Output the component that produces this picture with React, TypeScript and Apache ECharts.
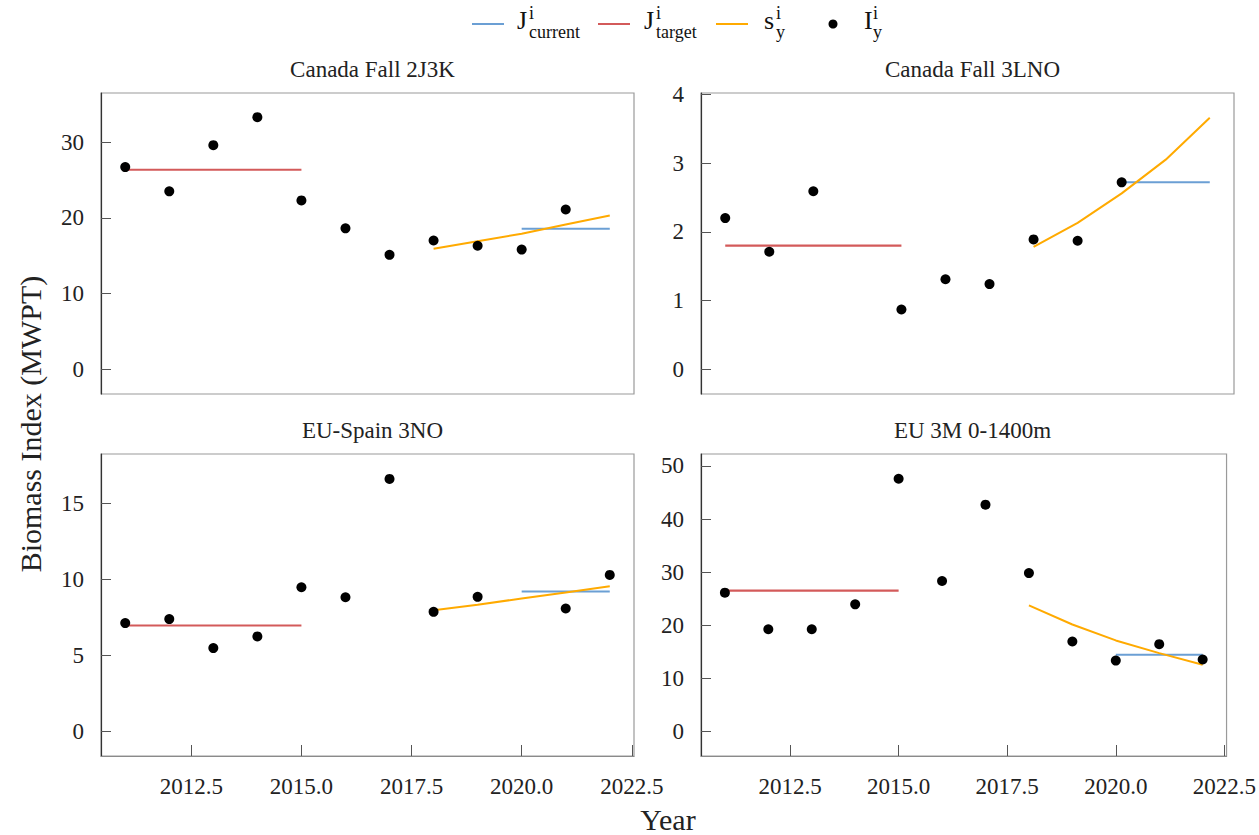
import React, { useEffect, useRef } from "react";
import * as echarts from "echarts";

const years = [2011, 2012, 2013, 2014, 2015, 2016, 2017, 2018, 2019, 2020, 2021, 2022];
const sYears = [2018, 2019, 2020, 2021, 2022];
const targetYears = [2011, 2015];
const currentYears = [2020, 2022];
const xTicks = [2012.5, 2015, 2017.5, 2020, 2022.5];

const titles = ["Canada Fall 2J3K", "Canada Fall 3LNO", "EU-Spain 3NO", "EU 3M 0-1400m"];

// Panel 1: Canada Fall 2J3K
const p1Index = [26.7, 23.5, 29.6, 33.3, 22.3, 18.6, 15.1, 17.0, 16.3, 15.8, 21.1, null];
const p1Target = 26.35;
const p1Current = 18.55;
const p1S = [15.9, 16.9, 17.9, 19.1, 20.3];
const p1Ticks = [0, 10, 20, 30];
const p1Range = [-3.3, 36.5];

// Panel 2: Canada Fall 3LNO
const p2Index = [2.2, 1.71, 2.59, null, 0.87, 1.31, 1.24, 1.89, 1.87, 2.72, null, null];
const p2Target = 1.8;
const p2Current = 2.72;
const p2S = [1.78, 2.13, 2.56, 3.05, 3.66];
const p2Ticks = [0, 1, 2, 3, 4];
const p2Range = [-0.36, 4.02];

// Panel 3: EU-Spain 3NO
const p3Index = [7.12, 7.38, 5.47, 6.24, 9.48, 8.82, 16.62, 7.86, 8.85, null, 8.08, 10.29];
const p3Target = 6.96;
const p3Current = 9.2;
const p3S = [7.97, 8.33, 8.74, 9.13, 9.55];
const p3Ticks = [0, 5, 10, 15];
const p3Range = [-1.64, 18.26];

// Panel 4: EU 3M 0-1400m
const p4Index = [26.1, 19.2, 19.2, 23.9, 47.6, 28.3, 42.7, 29.8, 16.9, 13.3, 16.4, 13.5];
const p4Target = 26.5;
const p4Current = 14.4;
const p4S = [23.7, 20.1, 17.1, 14.7, 12.5];
const p4Ticks = [0, 10, 20, 30, 40, 50];
const p4Range = [-4.7, 52.26];

const BLUE = "#6b9fd4";
const RED = "#d35a5a";
const ORANGE = "#ffaa00";
const FONT = "Liberation Serif";

const panels = [
  { idx: p1Index, target: p1Target, current: p1Current, s: p1S, ticks: p1Ticks, range: p1Range },
  { idx: p2Index, target: p2Target, current: p2Current, s: p2S, ticks: p2Ticks, range: p2Range },
  { idx: p3Index, target: p3Target, current: p3Current, s: p3S, ticks: p3Ticks, range: p3Range },
  { idx: p4Index, target: p4Target, current: p4Current, s: p4S, ticks: p4Ticks, range: p4Range },
];

const gridBoxes = [
  { left: 101, top: 93, width: 533, height: 301 },
  { left: 701, top: 93, width: 533, height: 301 },
  { left: 101, top: 454, width: 533, height: 302 },
  { left: 701, top: 454, width: 533, height: 302 },
];

function legendItem(x0: number, kind: "line" | "dot", color: string, main: string, sup: string, sub: string, textX: number, subX: number) {
  const els: any[] = [];
  if (kind === "line") {
    els.push({ type: "line", shape: { x1: x0, y1: 24, x2: x0 + 32, y2: 24 }, style: { stroke: color, lineWidth: 2 } });
  } else {
    els.push({ type: "circle", shape: { cx: x0 + 16, cy: 24, r: 4.5 }, style: { fill: color } });
  }
  els.push({ type: "text", x: textX, y: 20, style: { text: main, font: `26px '${FONT}'`, fill: "#111", verticalAlign: "middle", align: "left" } });
  els.push({ type: "text", x: subX, y: 13, style: { text: sup, font: `18px '${FONT}'`, fill: "#111", verticalAlign: "middle", align: "left" } });
  els.push({ type: "text", x: subX, y: 32, style: { text: sub, font: `18px '${FONT}'`, fill: "#111", verticalAlign: "middle", align: "left" } });
  return els;
}

export default function App() {
  const ref = useRef<HTMLDivElement>(null);
  useEffect(() => {
    if (!ref.current) return;
    const chart = echarts.init(ref.current, undefined, { renderer: "svg" });

    const grid = gridBoxes.map((g) => ({ ...g, show: true, borderColor: "#9a9a9a", borderWidth: 1.2, backgroundColor: "transparent" }));

    const xAxis = panels.map((_, i) => ({
      type: "value",
      gridIndex: i,
      min: 2010.45,
      max: 2022.55,
      axisLine: { show: i >= 2, onZero: false, lineStyle: { color: "#8a8a8a", width: 1.2 } },
      axisTick: { show: i >= 2, inside: true, length: 11, customValues: xTicks, lineStyle: { color: "#555" } },
      axisLabel: {
        show: i >= 2,
        customValues: xTicks,
        formatter: (v: number) => v.toFixed(1),
        fontFamily: FONT,
        fontSize: 23,
        color: "#222",
        margin: 19,
      },
      splitLine: { show: false },
    }));

    const yAxis = panels.map((p, i) => ({
      type: "value",
      gridIndex: i,
      min: p.range[0],
      max: p.range[1],
      axisLine: { show: true, onZero: false, lineStyle: { color: "#333", width: 1.2 } },
      axisTick: { show: true, inside: true, length: 10, customValues: p.ticks, lineStyle: { color: "#555" } },
      axisLabel: { customValues: p.ticks, fontFamily: FONT, fontSize: 23, color: "#222", margin: 17 },
      splitLine: { show: false },
    }));

    const series: any[] = [];
    panels.forEach((p, i) => {
      series.push({
        name: "target",
        type: "line",
        xAxisIndex: i,
        yAxisIndex: i,
        data: targetYears.map((y) => [y, p.target]),
        symbol: "none",
        lineStyle: { color: RED, width: 2.2 },
      });
      series.push({
        name: "current",
        type: "line",
        xAxisIndex: i,
        yAxisIndex: i,
        data: currentYears.map((y) => [y, p.current]),
        symbol: "none",
        lineStyle: { color: BLUE, width: 2 },
      });
      series.push({
        name: "s",
        type: "line",
        xAxisIndex: i,
        yAxisIndex: i,
        data: sYears.map((y, k) => [y, p.s[k]]),
        symbol: "none",
        lineStyle: { color: ORANGE, width: 2 },
      });
      series.push({
        name: "I",
        type: "scatter",
        xAxisIndex: i,
        yAxisIndex: i,
        data: years.map((y, k) => [y, p.idx[k]]).filter((d) => d[1] !== null),
        symbolSize: 10,
        itemStyle: { color: "#000", opacity: 1 },
        z: 5,
      });
    });

    const title = titles.map((t, i) => ({
      text: t,
      left: gridBoxes[i].left + gridBoxes[i].width / 2,
      top: gridBoxes[i].top - 40,
      textAlign: "center",
      textStyle: { fontFamily: FONT, fontSize: 23, fontWeight: "normal", color: "#222" },
    }));

    const graphic: any[] = [
      ...legendItem(472, "line", BLUE, "J", "i", "current", 517, 529),
      ...legendItem(598, "line", RED, "J", "i", "target", 644, 656),
      ...legendItem(716, "line", ORANGE, "s", "i", "y", 764, 776),
      ...legendItem(817, "dot", "#000", "I", "i", "y", 864, 873),
      {
        type: "text",
        x: 30,
        y: 424,
        rotation: Math.PI / 2,
        style: { text: "Biomass Index (MWPT)", font: `30px '${FONT}'`, fill: "#222", align: "center", verticalAlign: "middle" },
      },
      {
        type: "text",
        x: 668,
        y: 819,
        style: { text: "Year", font: `30px '${FONT}'`, fill: "#222", align: "center", verticalAlign: "middle" },
      },
    ];

    chart.setOption({
      animation: false,
      backgroundColor: "#fff",
      textStyle: { fontFamily: FONT },
      title,
      grid,
      xAxis,
      yAxis,
      series,
      graphic,
    });
    return () => chart.dispose();
  }, []);
  return <div ref={ref} style={{ position: "absolute", left: 0, top: 0, width: 1259, height: 835 }} />;
}
